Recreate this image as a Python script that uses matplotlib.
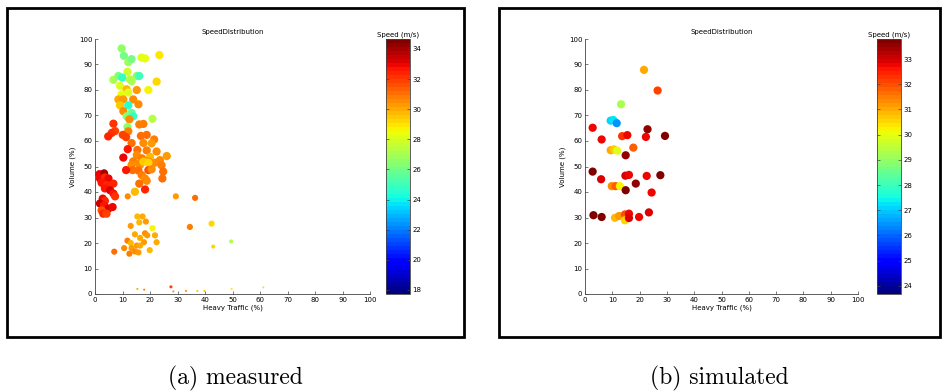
import matplotlib.pyplot as plt
import matplotlib.patches as patches
import numpy as np

# measured: heavy traffic (%), volume (%), speed (m/s), weight (marker size class)
meas_x = [9.7, 10.5, 12.1, 13.3, 16.9, 18.2, 23.4, 11.8, 6.7, 8.5, 9.9, 12.7, 15.2, 16.1, 13.3, 22.4,
          19.4, 9.1, 11.5, 15.2, 9.7, 12.1, 8.5, 10.3, 13.9, 15.8, 9.1, 12.1, 10.3, 13.3, 11.5, 13.9,
          20.9, 12.5, 6.7, 16.1, 17.6, 11.8, 12.1, 7.3, 6.1, 4.8, 10.1, 11.3, 16.7, 18.8, 17.6, 21.5,
          20.6, 13.3, 11.9, 15.4, 18.8, 22.4, 26.1, 10.3, 15.2, 17.1, 20.0, 23.6, 13.9, 19.4, 21.8, 16.4,
          24.2, 13.3, 15.8, 17.6, 19.4, 13.7, 15.8, 19.4, 20.6, 24.8, 11.3, 17.0, 18.2, 16.1, 18.8, 24.5,
          14.5, 18.2, 11.9, 29.4, 36.4,
          1.6, 3.3, 1.8, 3.6, 4.9, 2.4, 4.2, 6.7, 3.6, 5.5, 6.7, 7.3, 2.8, 3.6, 1.8, 3.3, 4.9, 6.4,
          2.4, 3.0, 4.2,
          15.4, 17.3, 16.1, 18.5, 13.0, 20.9, 14.5, 18.2, 19.0, 16.4, 21.8, 11.8, 17.8, 22.4, 13.0, 15.2,
          16.4, 10.6, 13.3, 19.9, 14.5, 15.8, 7.0, 12.5,
          34.5, 42.4, 43.0, 49.5,
          15.4, 17.9, 27.6, 28.5, 33.1, 37.2, 39.8, 49.7, 61.2]
meas_y = [96.3, 93.4, 90.9, 92.1, 92.7, 92.4, 93.7, 87.2, 84.0, 85.5, 84.9, 84.2, 85.5, 85.5, 83.5, 83.3,
          80.0, 81.6, 80.3, 80.0, 78.3, 79.0, 76.3, 76.3, 76.3, 74.4, 74.0, 74.0, 71.7, 71.0, 69.7, 69.7,
          68.7, 68.5, 66.8, 66.5, 66.7, 65.5, 63.8, 63.9, 63.2, 61.8, 62.4, 61.5, 62.0, 62.4, 59.2, 60.6,
          59.1, 59.2, 56.8, 56.5, 56.3, 55.9, 54.1, 53.5, 54.5, 53.2, 53.8, 52.5, 52.0, 52.0, 51.5, 50.6,
          50.5, 50.6, 51.2, 51.9, 51.5, 48.6, 48.4, 48.6, 48.9, 48.0, 48.6, 46.6, 45.3, 43.3, 44.4, 45.3,
          40.1, 41.0, 38.3, 38.3, 37.7,
          47.0, 47.3, 45.3, 45.7, 45.3, 43.6, 42.7, 43.3, 41.4, 40.7, 39.4, 38.3, 37.4, 36.5, 35.5, 34.8,
          33.5, 34.1, 32.8, 31.5, 31.5,
          30.4, 30.4, 28.1, 28.4, 26.7, 25.8, 23.4, 23.8, 23.0, 22.0, 23.0, 20.9, 20.3, 20.3, 20.0, 19.0,
          19.0, 18.0, 18.0, 17.2, 16.7, 16.3, 16.6, 15.8,
          26.3, 27.6, 18.6, 20.6,
          2.0, 1.7, 2.8, 1.0, 1.2, 1.2, 1.2, 2.0, 2.6]
meas_speed = [26.7, 26.0, 26.8, 26.0, 28.3, 28.5, 29.0, 28.0, 27.0, 26.2, 24.8, 27.5, 26.5, 25.0, 27.2, 29.2,
              28.6, 28.2, 29.8, 30.3, 28.5, 28.3, 30.0, 30.3, 30.5, 30.6, 29.5, 24.5, 30.5, 25.8, 26.3, 24.8,
              27.3, 30.5, 32.2, 30.8, 30.8, 26.5, 30.8, 32.0, 32.2, 32.5, 31.8, 32.0, 31.0, 31.0, 30.6, 30.8,
              30.3, 31.0, 32.8, 31.0, 30.8, 30.5, 30.2, 33.0, 30.6, 30.8, 29.8, 30.6, 30.8, 30.5, 30.5, 30.3,
              30.8, 30.5, 30.5, 29.5, 29.3, 31.2, 31.0, 31.5, 30.5, 31.0, 32.8, 30.8, 30.5, 31.0, 30.5, 31.2,
              29.8, 32.3, 30.5, 30.3, 31.0,
              33.0, 34.0, 33.0, 32.5, 33.0, 32.8, 32.5, 32.3, 32.8, 33.3, 32.8, 32.2, 33.0, 32.5, 33.5, 32.8,
              33.2, 33.0, 31.5, 32.3, 32.0,
              29.8, 30.0, 29.8, 30.2, 30.3, 28.8, 30.0, 30.5, 30.2, 30.0, 30.0, 30.8, 30.2, 30.0, 29.8, 30.2,
              30.0, 30.6, 30.3, 29.8, 30.5, 30.3, 31.0, 30.8,
              30.8, 29.3, 29.2, 27.3,
              30.0, 30.8, 32.0, 30.5, 30.5, 29.5, 29.5, 29.0, 29.0]
meas_weight = [4] * 82 + [3, 3, 3] + [4] * 21 + [3] * 24 + [3, 3, 2, 2] + [1, 1, 1.5, 1, 1, 1, 1, 1, 1]

# simulated
sim_x = [21.6, 26.6, 13.2, 9.4, 10.4, 11.6, 2.8, 22.9, 6.1, 13.6, 15.5, 22.3, 29.3, 9.4, 10.6, 11.8,
         17.7, 14.9, 2.8, 5.9, 14.8, 16.1, 22.6, 27.6, 9.8, 11.2, 12.8, 18.6, 14.9, 24.4, 3.1, 6.1,
         11.0, 12.5, 14.6, 14.6, 16.1, 16.1, 19.8, 23.4]
sim_y = [87.9, 79.8, 74.4, 68.0, 68.2, 67.0, 65.2, 64.6, 60.6, 61.9, 62.3, 61.6, 62.0, 56.4, 56.7, 56.2,
         57.4, 54.4, 48.0, 45.0, 46.4, 46.7, 46.3, 46.6, 42.3, 42.3, 42.3, 43.3, 40.7, 39.8, 30.9, 30.2,
         29.9, 30.6, 31.2, 28.9, 31.5, 29.8, 30.2, 32.0]
sim_speed = [31.0, 32.2, 29.3, 27.0, 27.3, 26.5, 32.8, 33.6, 32.8, 32.3, 32.7, 32.8, 33.7, 31.0, 30.7, 30.0,
             31.8, 33.6, 33.7, 33.0, 33.0, 32.8, 32.8, 33.7, 31.3, 31.8, 30.2, 33.6, 33.7, 32.8, 33.7, 33.7,
             30.8, 31.2, 32.0, 30.5, 32.8, 33.0, 32.8, 32.9]

panels = [
    dict(x=meas_x, y=meas_y, c=meas_speed, w=meas_weight, clim=(17.73, 34.66),
         ticks=list(range(18, 35, 2)), frame=(7, 464), ax=(95, 370), cb=(386, 410),
         caption='(a) measured'),
    dict(x=sim_x, y=sim_y, c=sim_speed, w=[4] * len(sim_x), clim=(23.67, 33.8),
         ticks=list(range(24, 34)), frame=(499, 940), ax=(585, 858), cb=(877, 901),
         caption='(b) simulated'),
]

W, H = 946, 392
fig = plt.figure(figsize=(W / 100, H / 100), dpi=100)
cmap = plt.get_cmap('jet', 64)
gray = '#444444'
fs = 5

for p in panels:
    # outer frame
    fx0, fx1 = p['frame']
    rect = patches.Rectangle((fx0 / W, 1 - 337 / H), (fx1 - fx0) / W, (337 - 8) / H,
                             transform=fig.transFigure, fill=False, lw=2, ec='black')
    fig.patches.append(rect)

    ax0, ax1 = p['ax']
    ax = fig.add_axes([ax0 / W, 1 - 294 / H, (ax1 - ax0) / W, (294 - 39) / H])
    sizes = [(2 * wt) ** 2 * 0.55 for wt in p['w']]
    sc = ax.scatter(p['x'], p['y'], c=p['c'], s=sizes, cmap=cmap,
                    vmin=p['clim'][0], vmax=p['clim'][1], linewidths=0)
    ax.set_xlim(0, 100)
    ax.set_ylim(0, 100)
    ax.set_xticks(range(0, 101, 10))
    ax.set_yticks(range(0, 101, 10))
    ax.spines['top'].set_visible(False)
    ax.spines['right'].set_visible(False)
    for s in ['left', 'bottom']:
        ax.spines[s].set_color(gray)
        ax.spines[s].set_linewidth(0.6)
    ax.tick_params(direction='in', length=2, width=0.5, color=gray, labelsize=fs, pad=2)
    ax.set_xlabel('Heavy Traffic (%)', fontsize=fs, labelpad=1)
    ax.set_ylabel('Volume (%)', fontsize=fs, labelpad=2)
    ax.set_title('SpeedDistribution', fontsize=fs, pad=3.5)

    cb0, cb1 = p['cb']
    cax = fig.add_axes([cb0 / W, 1 - 294 / H, (cb1 - cb0) / W, (294 - 39) / H])
    cbar = fig.colorbar(sc, cax=cax, ticks=p['ticks'])
    cbar.outline.set_edgecolor(gray)
    cbar.outline.set_linewidth(0.6)
    cax.tick_params(direction='in', length=2, width=0.5, color=gray, labelsize=fs,
                    left=True, right=True, pad=1.5)
    cax.set_title('Speed (m/s)', fontsize=fs, pad=2)

    fig.text((fx0 + fx1) / 2 / W, 1 - 378 / H, p['caption'], ha='center', va='center',
             fontsize=17, fontname='cmr10')

fig.savefig('out.png', dpi=100)
